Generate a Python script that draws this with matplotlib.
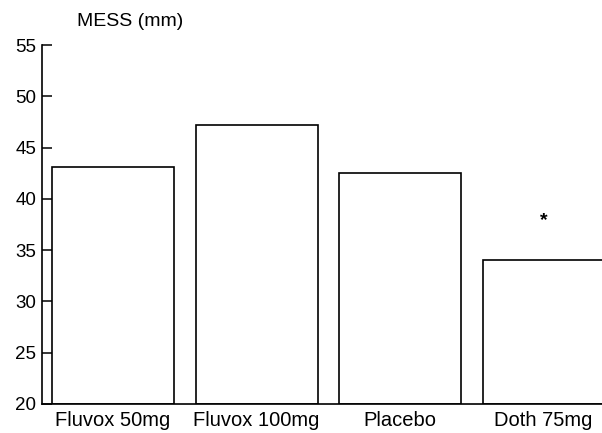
import matplotlib
matplotlib.use("Agg")
import matplotlib.pyplot as plt

categories = ["Fluvox 50mg", "Fluvox 100mg", "Placebo", "Doth 75mg"]
values = [43.1, 47.2, 42.5, 34.0]
yticks = [20, 25, 30, 35, 40, 45, 50, 55]
star_index = 3
star_y = 37.9

plt.rcParams['font.family'] = ['Liberation Sans', 'DejaVu Sans']

fig = plt.figure(figsize=(6.02, 4.33), dpi=100)
ax = fig.add_axes([42/602, 1-404/433, 1-42/602, (404-45)/433])
x = list(range(len(categories)))
ax.bar(x, [v - 20 for v in values], bottom=20, width=0.85, facecolor='white',
       edgecolor='black', linewidth=1.2, clip_on=True)
ax.set_ylim(20, 55)
ax.set_xlim(-0.495, 3.407)
ax.set_yticks(yticks)
ax.set_yticklabels([str(t) for t in yticks], fontsize=13.5)
ax.tick_params(axis='y', direction='in', length=7.5, width=1.1, pad=4)
ax.tick_params(axis='x', length=0, pad=5)
ax.set_xticks(x)
ax.set_xticklabels(categories, fontsize=14.5)
for s in ['top', 'right']:
    ax.spines[s].set_visible(False)
for s in ['left', 'bottom']:
    ax.spines[s].set_linewidth(1.2)
ax.text(star_index, star_y, "*", ha='center', va='center', fontsize=14, fontweight='bold')
fig.text(77/602, 1-21/433, "MESS (mm)", fontsize=14, ha='left', va='center')
fig.savefig("out.png", dpi=100)
